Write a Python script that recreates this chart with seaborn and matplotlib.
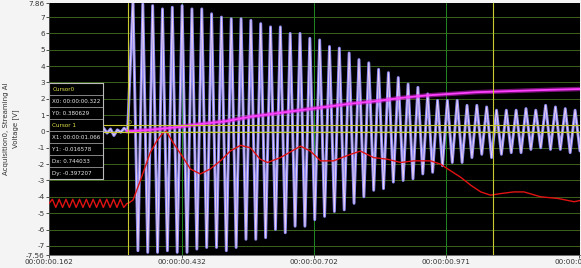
import numpy as np
import pandas as pd
import matplotlib
matplotlib.use("Agg")
import matplotlib.pyplot as plt
import seaborn as sns

# --- data -------------------------------------------------------------------
# voltage trace (lavender), quiet part before the step, then one peak and one
# trough per 50 Hz cycle
period = 0.02
t_first_peak = 0.333
blue_pre = [0.05, -0.15, 0.2, -0.1, 0.1, -0.25, 0.15, -0.05, 0.2, -0.2, 0.1, -0.1,
            0.25, -0.15, 0.05, -0.2, 0.2, -0.1, 0.15, -0.25, 0.1, -0.05, 0.2, 0.0]
blue_peaks = [8.0, 7.8, 7.7, 7.5, 7.6, 7.7, 7.5, 7.5, 7.2, 7.0, 6.9, 6.9, 6.8, 6.6,
              6.4, 6.4, 6.0, 6.0, 5.7, 5.6, 5.2, 5.1, 4.8, 4.4, 4.2, 3.8, 3.6, 3.3,
              2.9, 2.7, 2.3, 1.9, 1.9, 1.9, 1.6, 1.6, 1.5, 1.3, 1.3, 1.3, 1.4, 1.3,
              1.6, 1.5, 1.4, 1.3]
blue_troughs = [-7.3, -7.4, -7.4, -7.3, -7.4, -7.4, -7.2, -7.1, -7.1, -7.3, -7.1, -6.6,
                -6.6, -6.5, -6.0, -6.2, -5.8, -5.8, -5.4, -5.2, -4.9, -4.8, -4.4, -4.0,
                -3.6, -3.5, -3.1, -3.0, -2.9, -2.6, -2.5, -2.1, -1.9, -1.9, -1.6, -1.4,
                -1.6, -1.4, -1.3, -1.3, -1.1, -1.0, -1.1, -1.1, -1.3, -1.2]

# magenta trace
mag_t = [0.321, 0.368, 0.419, 0.470, 0.521, 0.572, 0.623, 0.674, 0.725, 0.776,
         0.827, 0.878, 0.929, 0.980, 1.031, 1.082, 1.133, 1.184, 1.247]
mag_v = [0.0, 0.1, 0.25, 0.45, 0.62, 0.9, 1.1, 1.3, 1.5, 1.7,
         1.85, 2.05, 2.2, 2.3, 2.4, 2.45, 2.5, 2.55, 2.6]

# red trace: small ripple before the step, then slow wander
red_pre = [-4.4, -4.15, -4.65, -4.15, -4.65, -4.15, -4.65, -4.15, -4.65, -4.15, -4.65,
           -4.15, -4.65, -4.15, -4.65, -4.15, -4.65, -4.15, -4.65, -4.15, -4.65,
           -4.15, -4.65, -4.4]
red_t = [0.323, 0.333, 0.348, 0.368, 0.382, 0.394, 0.401, 0.415, 0.435, 0.450,
         0.470, 0.490, 0.511, 0.531, 0.552, 0.572, 0.592, 0.607, 0.633, 0.674,
         0.694, 0.715, 0.741, 0.776, 0.796, 0.823, 0.851, 0.878, 0.904, 0.939,
         0.959, 0.974, 1.000, 1.021, 1.041, 1.061, 1.082, 1.108, 1.129, 1.163,
         1.198, 1.231, 1.247]
red_v = [-4.4, -4.2, -3.0, -1.3, -0.55, -0.1, 0.0, -0.7, -1.6, -2.3,
         -2.6, -2.3, -1.8, -1.2, -0.85, -1.0, -1.7, -1.9, -1.6, -0.9,
         -1.2, -1.8, -1.8, -1.4, -1.2, -1.6, -1.7, -1.9, -1.8, -1.8,
         -2.0, -2.3, -2.8, -3.3, -3.7, -3.9, -3.8, -3.7, -3.7, -4.0,
         -4.1, -4.3, -4.2]

x0, x1 = 0.162, 1.243
y0, y1 = -7.56, 7.86
xticks = [0.162, 0.432, 0.702, 0.971, 1.241]
xtick_labels = ["00:00:00.162", "00:00:00.432", "00:00:00.702", "00:00:00.971", "00:00:01.241"]
ygrid = list(range(-7, 8))

cursor0 = (0.322, 0.380629)
cursor1 = (1.066, -0.016578)
cursor_rows = [("Cursor0", True), ("X0: 00:00:00.322", False), ("Y0: 0.380629", False),
               ("Cursor 1", True), ("X1: 00:00:01.066", False), ("Y1: -0.016578", False),
               ("Dx: 0.744033", False), ("Dy: -0.397207", False)]

# --- build series -----------------------------------------------------------
pre_t = np.linspace(x0, 0.322, len(blue_pre))
pk_t = t_first_peak + period * np.arange(len(blue_peaks))
tr_t = pk_t + period / 2
osc_t = np.empty(2 * len(pk_t))
osc_t[0::2] = pk_t
osc_t[1::2] = tr_t
osc_v = np.empty(2 * len(pk_t))
osc_v[0::2] = blue_peaks
osc_v[1::2] = blue_troughs
blue = pd.DataFrame({"t": np.concatenate([pre_t, osc_t]),
                     "v": np.concatenate([blue_pre, osc_v])})

red = pd.DataFrame({"t": np.concatenate([np.linspace(x0, 0.321, len(red_pre)), red_t]),
                    "v": np.concatenate([red_pre, red_v])})
mag = pd.DataFrame({"t": mag_t, "v": mag_v})

# --- figure -----------------------------------------------------------------
sns.set_style("dark")
plt.rcParams['font.family'] = ['DejaVu Sans']
fig = plt.figure(figsize=(5.81, 2.68), dpi=100, facecolor="#f4f4f4")
ax = fig.add_axes([49 / 581, 13 / 268, 531 / 581, 252 / 268])
ax.set_facecolor("black")

for g in ygrid:
    ax.axhline(g, color="#46701f", lw=0.6, zorder=1)
for xt in xticks[1:-1]:
    ax.axvline(xt, color="#1f8a1f", lw=0.7, zorder=1)

sns.lineplot(data=blue, x="t", y="v", ax=ax, color="#8e8cf2", lw=2.1,
             estimator=None, sort=False, zorder=3)
sns.lineplot(data=blue, x="t", y="v", ax=ax, color="#f2d6ee", lw=0.6,
             estimator=None, sort=False, zorder=4)
sns.lineplot(data=mag, x="t", y="v", ax=ax, color="#e020e0", lw=3.2, alpha=0.55,
             estimator=None, sort=False, zorder=5)
sns.lineplot(data=mag, x="t", y="v", ax=ax, color="#ff40ff", lw=1.3,
             estimator=None, sort=False, zorder=5)
sns.lineplot(data=red, x="t", y="v", ax=ax, color="#e01212", lw=1.0,
             estimator=None, sort=False, zorder=6)

# cursors
ycol = "#c9c930"
for cx, cy in (cursor0, cursor1):
    ax.axvline(cx, color=ycol, lw=0.8, zorder=7)
    ax.axhline(cy, color=ycol, lw=0.8, zorder=7)
ax.text(cursor0[0], cursor0[1], "0", color=ycol, fontsize=4.5, ha="left", va="bottom", zorder=8)
ax.text(cursor1[0], cursor1[1], "1", color=ycol, fontsize=4.5, ha="left", va="bottom", zorder=8)

ax.set_xlim(x0, x1)
ax.set_ylim(y0, y1)
yticks = [y0] + ygrid + [y1]
ax.set_yticks(yticks)
ax.set_yticklabels(["-7.56"] + [str(g) for g in ygrid] + ["7.86"])
ax.set_xticks(xticks)
ax.set_xticklabels(xtick_labels)
ax.tick_params(axis="both", labelsize=5.2, colors="#333333", length=2, width=0.6,
               direction="out", pad=1, left=True, bottom=True)
ax.set_xlabel("")
ax.set_ylabel("Acquisition0, Streaming AI\nVoltage [V]", fontsize=5, color="#333333",
              labelpad=5, linespacing=1.6)
for s in ax.spines.values():
    s.set_visible(False)
for side in ("left", "bottom"):
    ax.spines[side].set_visible(True)
    ax.spines[side].set_color("#555555")
    ax.spines[side].set_linewidth(0.6)

# cursor readout box
bx = fig.add_axes([49 / 581, 1 - 179 / 268, 54 / 581, 96 / 268])
bx.set_facecolor("black")
bx.set_xlim(0, 1)
bx.set_ylim(len(cursor_rows), 0)
bx.set_xticks([])
bx.set_yticks([])
for s in bx.spines.values():
    s.set_color("#bbbbbb")
    s.set_linewidth(0.8)
for i, (txt, head) in enumerate(cursor_rows):
    if i > 0:
        bx.axhline(i, color="#9a9a9a", lw=0.6)
    bx.text(0.06, i + 0.55, txt, color="#e4e44a" if head else "#e8e8e8",
            fontsize=4.1, va="center", ha="left")

fig.savefig("out.png", dpi=100, facecolor=fig.get_facecolor())
